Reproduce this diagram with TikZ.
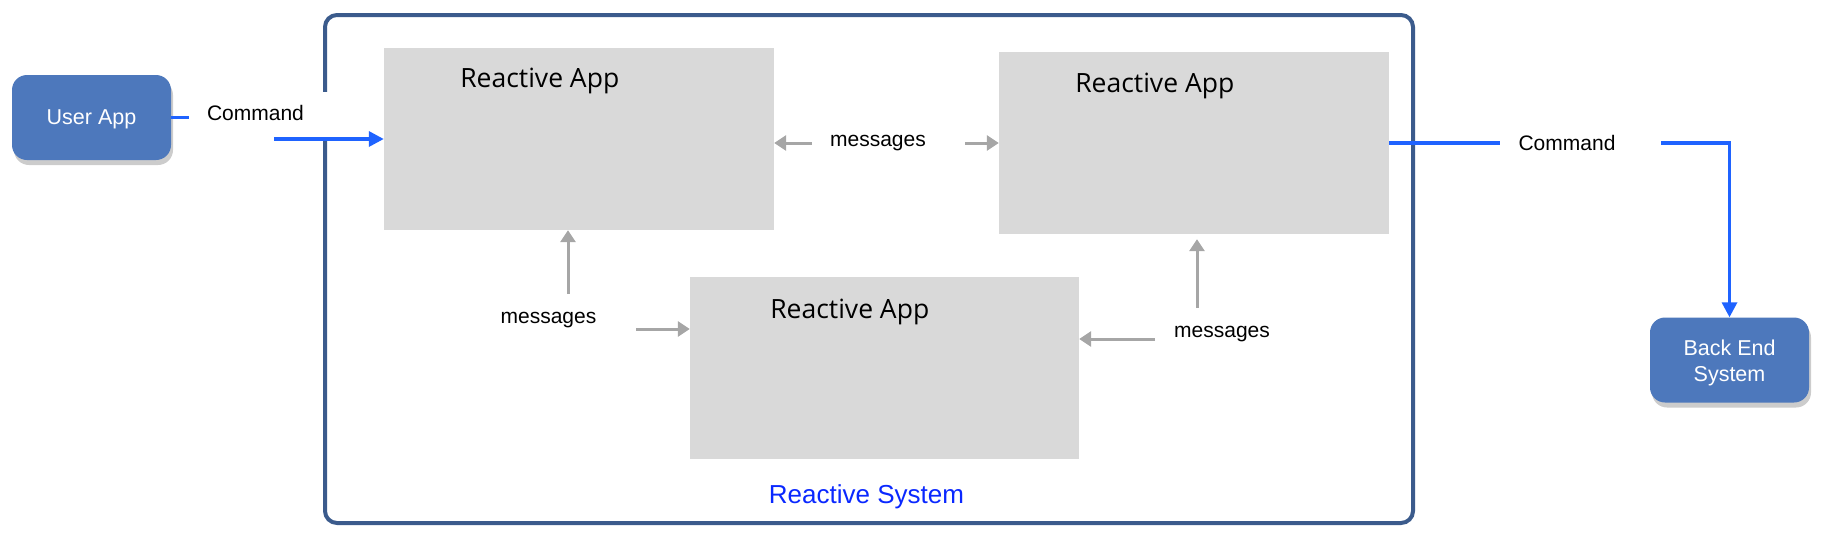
\documentclass[tikz,border=0pt]{standalone}
\usepackage{fontspec}
\setmainfont{Liberation Sans}
\newfontfamily\appfont{Open Sans}
\usetikzlibrary{arrows.meta,shadows,calc}
\definecolor{framec}{HTML}{3B5B8C}
\definecolor{boxblue}{HTML}{4D78BC}
\definecolor{cmdblue}{HTML}{1F63FF}
\definecolor{arrgray}{HTML}{A6A6A6}
\definecolor{appgray}{HTML}{D9D9D9}
\definecolor{sysblue}{HTML}{0A28FF}
\tikzset{
  sysframe/.style={draw=framec, line width=4pt, rounded corners=12pt, inner sep=0pt},
  appbox/.style={fill=appgray, inner sep=0pt, minimum width=390pt, minimum height=182pt},
  apptitle/.style={inner sep=0pt, font=\appfont\fontsize{26.5}{30}\selectfont},
  endbox/.style={fill=boxblue, rounded corners=15pt, inner sep=0pt, minimum width=159pt,
    minimum height=85pt,
    drop shadow={shadow xshift=2pt, shadow yshift=-5pt, opacity=0.25, fill=black!80}},
  endtxt/.style={inner sep=0pt, text=white, font=\fontsize{21.5}{26}\selectfont, anchor=base},
  lbl/.style={inner sep=0pt, font=\fontsize{21}{26}\selectfont, anchor=base},
  cmd/.style={draw=cmdblue, line width=3.3pt},
  cmdtip/.style={-{Triangle[length=15pt,width=15pt]}},
  msg/.style={draw=arrgray, line width=3pt, -{Triangle[length=12pt,width=15pt]}}
}
\begin{document}
\begin{tikzpicture}[x=1pt,y=-1pt]
\useasboundingbox (0,0) rectangle (1834,552);
% reactive system frame
\node[sysframe, minimum width=1088pt, minimum height=508pt] (sys) at (869,269) {};
\node[font=\fontsize{26}{30}\selectfont, text=sysblue, inner sep=0pt, anchor=base] (systxt) at (866.5,503.5) {Reactive System};
% end boxes
\node[endbox] (ua) at (91.5,117.5) {};
\node[endtxt] (uat) at (91.5,124.5) {User App};
\node[endbox] (be) at (1729.5,360) {};
\node[endtxt] (bet1) at (1729.5,355) {Back End};
\node[endtxt] (bet2) at (1729.5,381) {System};
% reactive apps
\node[appbox] (ra1) at (579,139) {};
\node[appbox] (ra2) at (1194,143) {};
\node[appbox, minimum width=389pt] (ra3) at (884.5,368) {};
\node[apptitle, anchor=base] (ra1t) at ($(ra1.north west)+(156,40)$) {Reactive App};
\node[apptitle, anchor=base] (ra2t) at ($(ra2.north west)+(156,41)$) {Reactive App};
\node[apptitle, anchor=base] (ra3t) at ($(ra3.north west)+(160,42)$) {Reactive App};
% command in
\coordinate (bendL) at (276,117.5);
\draw[cmd, cmdtip] (ua.east) -- (bendL) |- (ra1.west);
\fill[white] (189,92) rectangle (330,137);
\node[lbl] (cmdL) at (255.5,120.5) {Command};
% command out
\coordinate (cR1) at (1500,143);
\coordinate (cR2) at (1661,143);
\draw[cmd] (ra2.east) -- (cR1);
\draw[cmd, cmdtip] (cR2) -| (be.north);
\node[lbl] (cmdR) at (1567,150) {Command};
% messages
\node[lbl] (m1) at (878,146.5) {messages};
\node[lbl] (m2) at (548.5,323.5) {messages};
\node[lbl] (m3) at (1222,337) {messages};
\coordinate (a1) at (812,143);
\coordinate (a2) at (965,143);
\coordinate (a3) at (568,294);
\coordinate (a4) at (636,329);
\coordinate (a5) at (1155,339);
\coordinate (a6) at (1197,308);
\draw[msg] (a1) -- (a1 -| ra1.east);
\draw[msg] (a2) -- (a2 -| ra2.west);
\draw[msg] (a3) -- (a3 |- ra1.south);
\draw[msg] (a4) -- (a4 -| ra3.west);
\draw[msg] (a5) -- (a5 -| ra3.east);
\draw[msg, shorten >=5pt] (a6) -- (a6 |- ra2.south);
\end{tikzpicture}
\end{document}
